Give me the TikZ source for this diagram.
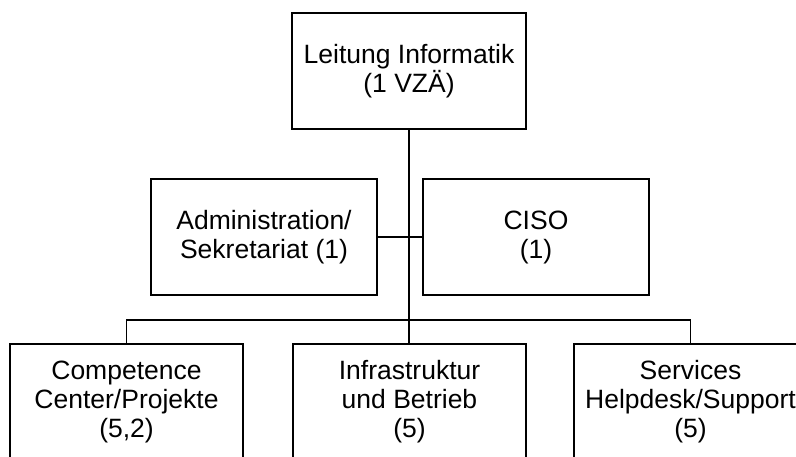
\documentclass[tikz,border=0pt]{standalone}
\usepackage{fontspec}
\setmainfont{Liberation Sans}
\begin{document}
\begin{tikzpicture}[x=1pt,y=1pt,
  orgbox/.style={draw=black, line width=1.3pt, fill=white, minimum width=233pt, minimum height=116pt,
    inner sep=0pt, align=center, font=\fontsize{26.5}{29}\selectfont},
  midbox/.style={orgbox, minimum width=226pt},
  conn/.style={draw=black, line width=1.3pt}]
\useasboundingbox (0,0) rectangle (796,-456);
\fill[white] (0,0) rectangle (796,-456);
\clip (0,0) rectangle (796,-456);
\node[orgbox, minimum width=234pt] (top) at (409,-71) {Leitung Informatik\\(1 VZÄ)};
\node[midbox] (admin) at (264,-237) {Administration/\\Sekretariat (1)};
\node[midbox] (ciso) at (536,-237) {CISO\\(1)};
\node[orgbox] (comp) at (126.5,-402) {Competence\\Center/Projekte\\(5,2)};
\node[orgbox] (infra) at (409.5,-402) {Infrastruktur\\und Betrieb\\(5)};
\node[orgbox] (serv) at (690.5,-402) {Services\\Helpdesk/Support\\(5)};
\coordinate (bus) at (409,-320);
\draw[conn] (top.south) -- (top.south |- infra.north);
\draw[conn] (admin.east) -- (ciso.west);
\draw[conn] (comp.north) |- (bus) -| (serv.north);
\end{tikzpicture}
\end{document}
